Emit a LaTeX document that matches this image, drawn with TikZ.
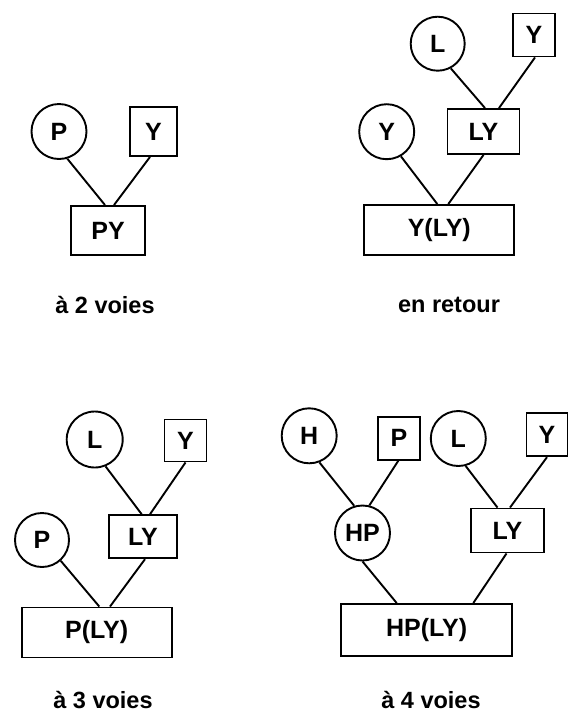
\documentclass[tikz,border=0pt]{standalone}
\usepackage{fontspec}
\setmainfont{Liberation Sans}
\begin{document}
\begin{tikzpicture}[x=1pt,y=-1pt,
  every node/.style={font=\fontsize{25}{29}\selectfont\bfseries, inner sep=0pt},
  circ/.style={circle, draw, line width=1.9pt, minimum size=#1},
  circ/.default=55pt,
  sq/.style={rectangle, draw, line width=1.9pt, minimum width=42pt, minimum height=43pt},
  bx/.style 2 args={rectangle, draw, line width=1.9pt, minimum width=#1, minimum height=#2},
  conn/.style={line width=1.9pt},
  lab/.style={font=\fontsize{23.5}{28}\selectfont\bfseries}]
\path[use as bounding box] (0,0) rectangle (577,713);
% ---- a 2 voies
\node[circ] (P1) at (59,131.5) {P};
\node[bx={47pt}{49pt}] (Y1) at (153.5,131.5) {Y};
\node[bx={74pt}{49pt}] (PY) at (108,230.5) {PY};
\node[lab] (t1) at (105,305) {à 2 voies};
\draw[conn] (P1.-73) -- ([xshift=-3pt]PY.north);
\draw[conn] ([xshift=-3.5pt]Y1.south) -- ([xshift=6pt]PY.north);
% ---- en retour
\node[circ=54pt] (L2) at (437.7,43.7) {L};
\node[sq] (Y2s) at (534,35) {Y};
\node[bx={72pt}{45pt}] (LY2) at (483.5,131.5) {LY};
\node[circ] (Y2c) at (386.7,131.7) {Y};
\node[bx={150pt}{50pt}] (YLY) at (439.3,230) {Y(LY)};
\node[lab] (t2) at (449,305) {en retour};
\draw[conn] (L2.-62) -- ([xshift=1.5pt]LY2.north);
\draw[conn] ([xshift=1pt]Y2s.south) -- ([xshift=15.5pt]LY2.north);
\draw[conn] (Y2c.-60) -- ([xshift=-2pt]YLY.north);
\draw[conn] (LY2.south) -- ([xshift=9pt]YLY.north);
% ---- a 3 voies
\node[circ=56pt] (L3) at (94.7,439.5) {L};
\node[bx={42pt}{42pt}] (Y3) at (185.5,440.5) {Y};
\node[bx={68pt}{43pt}] (LY3) at (143,536.7) {LY};
\node[circ=54pt] (P3) at (42,540) {P};
\node[bx={150pt}{50pt}] (PLY) at (96.7,632.5) {P(LY)};
\node[lab] (t3) at (103,700) {à 3 voies};
\draw[conn] (L3.-68) -- ([xshift=-1.3pt]LY3.north);
\draw[conn] (Y3.south) -- ([xshift=7pt]LY3.north);
\draw[conn] (P3.-48) -- ([xshift=2.6pt]PLY.north);
\draw[conn] ([xshift=2pt]LY3.south) -- ([xshift=13.3pt]PLY.north);
% ---- a 4 voies
\node[circ] (H4) at (309.2,435.8) {H};
\node[sq] (P4) at (399,438.3) {P};
\node[circ] (L4) at (458.3,438.5) {L};
\node[bx={41pt}{43pt}] (Y4) at (547,434.7) {Y};
\node[circ] (HP4) at (362.5,533) {HP};
\node[bx={73pt}{44pt}] (LY4) at (507.5,530.5) {LY};
\node[bx={171pt}{52pt}] (HPLY) at (426.7,630) {HP(LY)};
\node[lab] (t4) at (431,700) {à 4 voies};
\draw[conn] (H4.-69) -- (HP4.107);
\draw[conn] ([xshift=-0.7pt]P4.south) -- (HP4.76);
\draw[conn] (L4.-75) -- ([xshift=-10pt]LY4.north);
\draw[conn] (Y4.south) -- ([xshift=2.5pt]LY4.north);
\draw[conn] (HP4.-90) -- ([xshift=-30pt]HPLY.north);
\draw[conn] ([xshift=-1pt]LY4.south) -- ([xshift=46.6pt]HPLY.north);
\end{tikzpicture}
\end{document}
